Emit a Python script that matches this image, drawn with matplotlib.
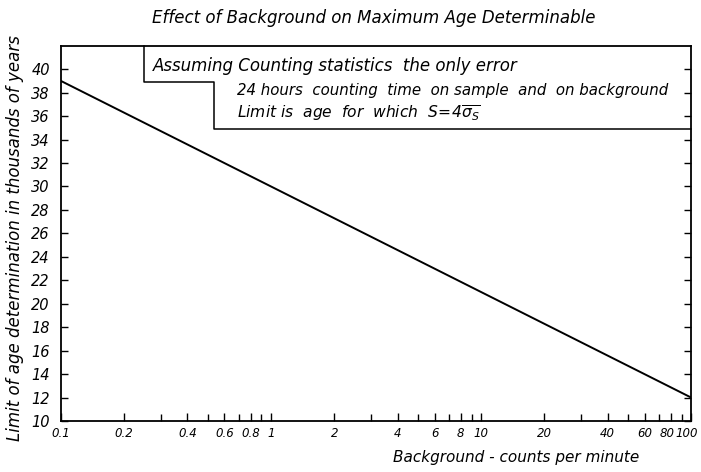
import matplotlib
matplotlib.use("Agg")
import matplotlib.pyplot as plt
import matplotlib.transforms as mtransforms
from matplotlib.ticker import FixedLocator, NullFormatter

# background (counts per minute) vs limit of age (thousands of years)
background = [0.1, 1, 10, 100]
age_limit = [39, 30, 21, 12]

x_major = [0.1, 0.2, 0.4, 0.6, 0.8, 1, 2, 4, 6, 8, 10, 20, 40, 60, 80, 100]
x_labels = ["0.1", "0.2", "0.4", "0.6", "0.8", "1", "2", "4", "6", "8", "10",
            "20", "40", "60", "80", "100"]
x_minor = [0.3, 0.5, 0.7, 0.9, 3, 5, 7, 9, 30, 50, 70, 90]
y_ticks = list(range(10, 42, 2))

notes = ["Assuming Counting statistics  the only error",
         "24 hours  counting  time  on sample  and  on background",
         r"Limit is  age  for  which  $S\!=\!4\overline{\sigma_S}$"]

plt.rcParams["font.family"] = "DejaVu Sans"
plt.rcParams["mathtext.fontset"] = "custom"
plt.rcParams["mathtext.it"] = "DejaVu Sans:italic"
plt.rcParams["mathtext.rm"] = "DejaVu Sans:italic"

fig = plt.figure(figsize=(7.01, 4.72), dpi=100)
ax = fig.add_axes([0.087, 0.108, 0.899, 0.795])

ax.plot(background, age_limit, color="black", lw=1.4)
ax.set_xscale("log")
ax.set_xlim(0.1, 100)
ax.set_ylim(10, 42)

ax.xaxis.set_major_locator(FixedLocator(x_major))
ax.set_xticklabels(x_labels, style="italic", fontsize=8.5)
ax.xaxis.set_minor_locator(FixedLocator(x_minor))
ax.xaxis.set_minor_formatter(NullFormatter())
ax.set_yticks(y_ticks)
ax.set_yticklabels([str(v) for v in y_ticks], style="italic", fontsize=10.5)
ax.tick_params(axis="both", which="both", direction="in", right=True,
               length=5, width=1)
ax.tick_params(axis="x", which="major", length=6, pad=4)
ax.tick_params(axis="y", pad=8)
for s in ax.spines.values():
    s.set_linewidth(1.3)

# nudge the crowded right-hand x labels so they fit inside the figure
for lab, dx in zip(ax.get_xticklabels()[-2:], (-2.5, -3.5)):
    lab.set_transform(lab.get_transform() +
                      mtransforms.ScaledTranslation(dx / 72, 0, fig.dpi_scale_trans))

# stepped note box hugging the top of the frame
box_x = [0.1316, 0.1316, 0.2432, 0.2432, 1.0]
box_y = [1.0, 0.904, 0.904, 0.779, 0.779]
ax.plot(box_x, box_y, color="black", lw=1.1, transform=ax.transAxes, clip_on=False)
ax.text(0.146, 0.945, notes[0], transform=ax.transAxes, style="italic",
        fontsize=12, va="center")
ax.text(0.279, 0.882, notes[1], transform=ax.transAxes, style="italic",
        fontsize=10.8, va="center")
ax.text(0.279, 0.822, notes[2], transform=ax.transAxes, style="italic",
        fontsize=11.2, va="center")

fig.text(0.533, 0.962, "Effect of Background on Maximum Age Determinable",
         style="italic", fontsize=12, ha="center", va="center")
fig.text(0.022, 0.495, "Limit of age determination in thousands of years",
         style="italic", fontsize=12, ha="center", va="center", rotation=90)
fig.text(0.736, 0.03, "Background - counts per minute",
         style="italic", fontsize=11, ha="center", va="center")

fig.savefig("out.png", dpi=100)
